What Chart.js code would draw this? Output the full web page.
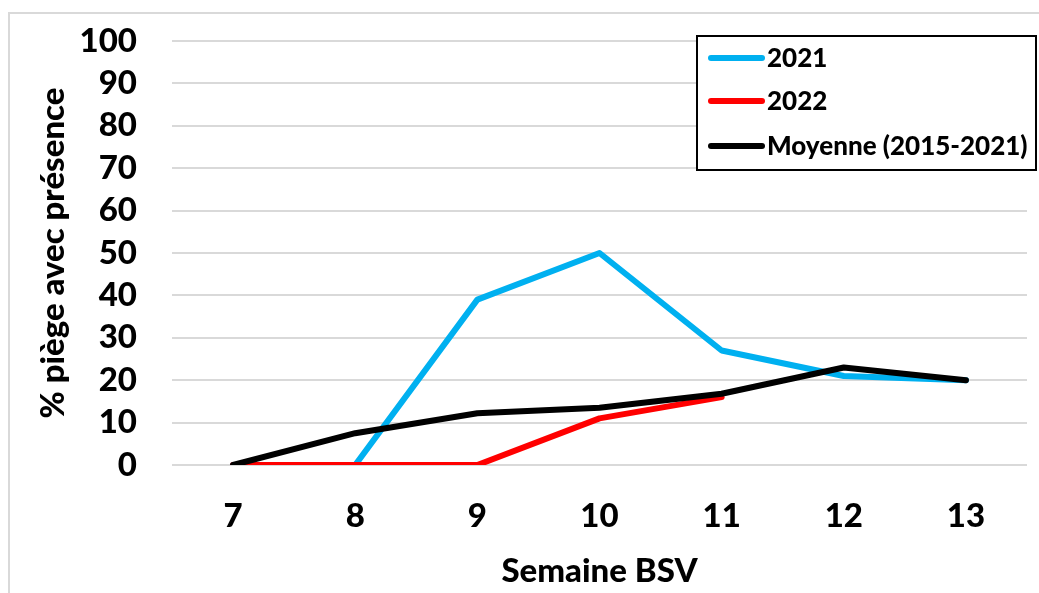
<!DOCTYPE html>
<html>
<head>
<meta charset="utf-8">
<script src="https://cdn.jsdelivr.net/npm/chart.js@4.4.0/dist/chart.umd.min.js"></script>
<style>
  html, body { margin: 0; padding: 0; background: #fff; }
  #wrap { position: relative; width: 1039px; height: 593px; overflow: hidden; }
  #frame { position: absolute; left: 8px; top: 12px; width: 1100px; height: 700px; border-left: 2px solid #d9d9d9; border-top: 2px solid #d9d9d9; }
  canvas { position: absolute; left: 0; top: 0; }
</style>
</head>
<body>
<div id="wrap">
  <div id="frame"></div>
  <canvas id="lineChart" width="1039" height="593"></canvas>
</div>
<script>
  var semaines = ["7", "8", "9", "10", "11", "12", "13"];
  var data2021 = [0, 0, 39, 50, 27, 21, 20];
  var data2022 = [0, 0, 0, 11, 16, null, null];
  var moyenne = [0, 7.5, 12.2, 13.5, 16.8, 23, 20];

  var FONT = "Lato, 'Open Sans', sans-serif";

  // legend drawn inside the plot like the original
  var boxLegend = {
    id: 'boxLegend',
    afterDraw: function(chart) {
      var c = chart.ctx;
      var x = 697, y = 36, w = 339, h = 134;
      c.save();
      c.fillStyle = '#fff';
      c.fillRect(x, y, w, h);
      c.lineWidth = 2;
      c.strokeStyle = '#000';
      c.strokeRect(x, y, w, h);
      var rows = [58, 101, 146];
      chart.data.datasets.forEach(function(ds, i) {
        c.beginPath();
        c.lineCap = 'round';
        c.lineWidth = 6;
        c.strokeStyle = ds.borderColor;
        c.moveTo(711, rows[i]);
        c.lineTo(762, rows[i]);
        c.stroke();
        c.fillStyle = '#000';
        c.font = '900 26px ' + FONT;
        c.textBaseline = 'middle';
        c.textAlign = 'left';
        c.fillText(ds.label, 767, rows[i] + 1);
      });
      c.restore();
    }
  };

  var ctxL = document.getElementById("lineChart").getContext('2d');
  var myLineChart = new Chart(ctxL, {
    type: 'line',
    data: {
      labels: semaines,
      datasets: [{
          label: "2021",
          data: data2021,
          borderColor: '#00B0F0',
          borderWidth: 6,
          order: 3
        },
        {
          label: "2022",
          data: data2022,
          borderColor: '#FF0000',
          borderWidth: 6,
          order: 2
        },
        {
          label: "Moyenne (2015-2021)",
          data: moyenne,
          borderColor: '#000000',
          borderWidth: 6,
          order: 1
        }
      ]
    },
    options: {
      responsive: false,
      animation: false,
      layout: { padding: { top: 41, right: 12, left: 0, bottom: 0 } },
      elements: {
        point: { radius: 0 },
        line: { tension: 0, borderCapStyle: 'round', borderJoinStyle: 'round' }
      },
      plugins: {
        legend: { display: false },
        tooltip: { enabled: false }
      },
      scales: {
        x: {
          offset: true,
          grid: { display: false },
          border: { display: false },
          ticks: { autoSkip: false, maxRotation: 0, color: '#000', font: { family: FONT, size: 33, weight: '900' }, padding: 24 },
          title: { display: true, text: 'Semaine BSV', color: '#000', font: { family: FONT, size: 33, weight: '900' }, padding: { top: 0, bottom: 2 } },
          afterFit: function(s) { s.height = 128; s.paddingLeft = 0; s.paddingRight = 0; }
        },
        y: {
          min: 0,
          max: 100,
          ticks: { autoSkip: false, stepSize: 10, color: '#000', font: { family: FONT, size: 33, weight: '900' }, padding: 35 },
          grid: { color: '#d9d9d9', lineWidth: 2, drawTicks: false },
          border: { display: false },
          title: { display: true, text: '% piège avec présence', color: '#000', font: { family: FONT, size: 33, weight: '900' }, padding: { top: 34, bottom: 0 } },
          afterFit: function(s) { s.width = 172; s.paddingTop = 0; s.paddingBottom = 0; }
        }
      }
    },
    plugins: [boxLegend]
  });
</script>
</body>
</html>
